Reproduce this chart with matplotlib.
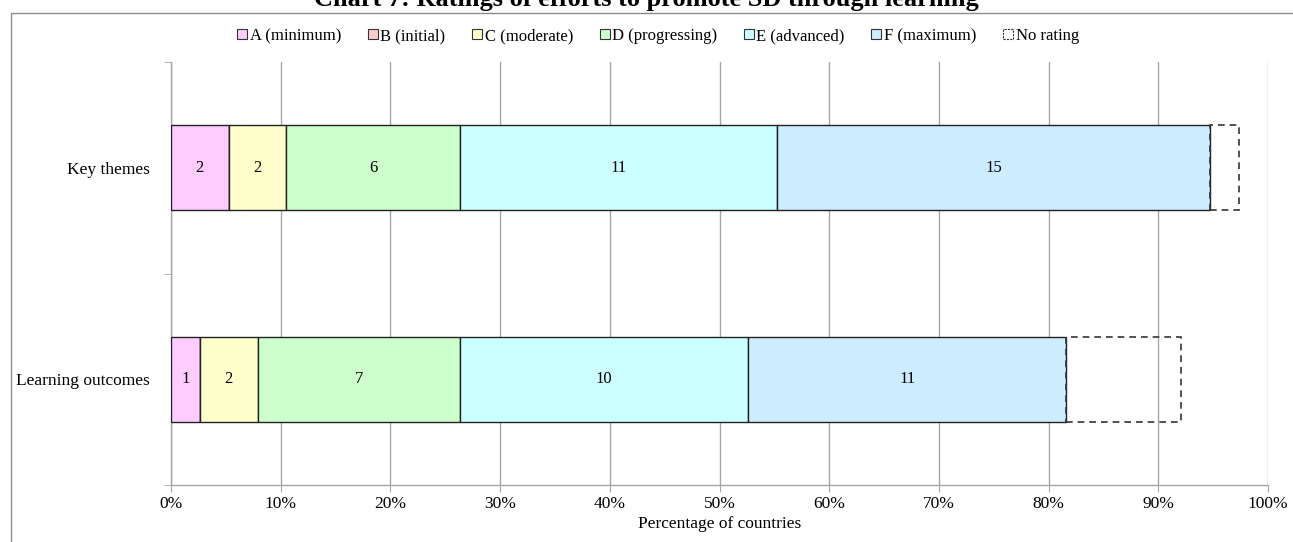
import matplotlib
import matplotlib.pyplot as plt
from matplotlib.patches import Patch, Rectangle
import numpy as np

matplotlib.use("Agg")

plt.rcParams["font.family"] = ["Liberation Serif", "DejaVu Serif"]

# === Data (counts of countries, shown as % of all countries) ===
categories = ["Learning outcomes", "Key themes"]
ratings = [
    "A (minimum)",
    "B (initial)",
    "C (moderate)",
    "D (progressing)",
    "E (advanced)",
    "F (maximum)",
    "No rating",
]
key_themes = [2, 0, 2, 6, 11, 15, 1]
learning_outcomes = [1, 0, 2, 7, 10, 11, 4]
n_countries = 38
x_ticks = [0, 10, 20, 30, 40, 50, 60, 70, 80, 90, 100]

colors = ["#FFCCFF", "#FFCCCC", "#FFFFCC", "#CCFFCC", "#CCFFFF", "#CCECFF", "none"]
grid_grey = "#A6A6A6"

counts = np.array([learning_outcomes, key_themes], dtype=float)
pct = counts / n_countries * 100

fig = plt.figure(figsize=(12.93, 5.42), dpi=100)
ax = fig.add_axes([171 / 1293, 57 / 542, 1097 / 1293, 423 / 542])

y_pos = np.arange(len(categories))
left = np.zeros(len(categories))
for j, rating in enumerate(ratings):
    if rating == "No rating":
        ax.barh(y_pos, pct[:, j], left=left, height=0.4, facecolor="none",
                edgecolor="#333333", linestyle=(0, (4, 3)), linewidth=1.2, zorder=3)
    else:
        ax.barh(y_pos, pct[:, j], left=left, height=0.4, color=colors[j],
                edgecolor="#222222", linewidth=1.0, zorder=3)
        for i in range(len(categories)):
            if counts[i, j] > 0:
                ax.text(left[i] + pct[i, j] / 2, y_pos[i], f"{int(counts[i, j])}",
                        ha="center", va="center", fontsize=12, zorder=4)
    left += pct[:, j]

ax.set_xlim(0, 100)
ax.set_ylim(-0.5, 1.5)
ax.set_xticks(x_ticks)
ax.set_xticklabels([f"{t}%" for t in x_ticks], fontsize=12.5)
ax.set_xlabel("Percentage of countries", fontsize=12.5, labelpad=3)
ax.set_yticks(y_pos)
ax.set_yticklabels(categories, fontsize=12.5)
ax.set_yticks([-0.5, 0.5, 1.5], minor=True)
ax.tick_params(axis="y", which="major", length=0, pad=15)
ax.tick_params(axis="y", which="minor", length=5, color=grid_grey, direction="out")
ax.tick_params(axis="x", which="major", length=5, color=grid_grey, direction="out", pad=3)

ax.grid(axis="x", color=grid_grey, linewidth=1.0, zorder=0)
ax.set_axisbelow(True)
for side in ["top", "right"]:
    ax.spines[side].set_visible(False)
for side in ["left", "bottom"]:
    ax.spines[side].set_color(grid_grey)
    ax.spines[side].set_linewidth(1.0)

# outer chart frame (partly cut off in the original)
fig.patches.append(Rectangle((11 / 1293, -0.05), 1.1, 1 - 13 / 542 + 0.05,
                             transform=fig.transFigure, facecolor="none",
                             edgecolor="#8C8C8C", linewidth=1.0))

# title is cut at the top edge, as in the original
fig.text(0.5, 1 - 6 / 542, "Chart 7: Ratings of efforts to promote SD through learning",
         ha="center", va="baseline", fontsize=19, fontweight="bold")

handles = []
for j, rating in enumerate(ratings):
    if rating == "No rating":
        handles.append(Patch(facecolor="white", edgecolor="#333333",
                             linestyle=(0, (2, 1)), linewidth=0.8, label=rating))
    else:
        handles.append(Patch(facecolor=colors[j], edgecolor="#333333",
                             linewidth=0.8, label=rating))
fig.legend(handles=handles, loc="center", bbox_to_anchor=(658 / 1293, 1 - 36 / 542),
           ncol=7, frameon=False, fontsize=12, handlelength=0.6, handleheight=0.6,
           handletextpad=0.15, columnspacing=1.6)

fig.savefig("out.png", dpi=100)
